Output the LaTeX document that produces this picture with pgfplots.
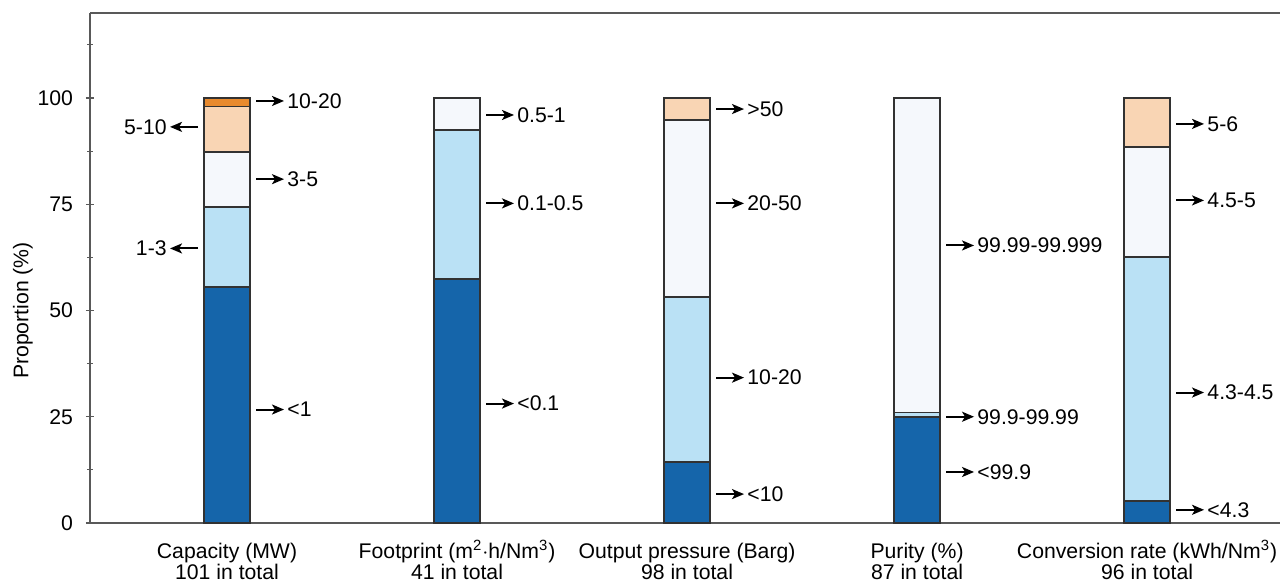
\documentclass[border=0pt]{standalone}
\usepackage{fontspec}
\setmainfont{Liberation Sans}
\usepackage{pgfplots}
\pgfplotsset{compat=1.18}
\usetikzlibrary{arrows.meta}
\definecolor{cdark}{RGB}{21,101,170}
\definecolor{clight}{RGB}{186,225,245}
\definecolor{cwhite}{RGB}{245,248,252}
\definecolor{cpeach}{RGB}{249,213,180}
\definecolor{corange}{RGB}{232,138,46}
\definecolor{cedge}{RGB}{50,50,50}
\newcommand{\fs}{\fontsize{10.6}{10.6}\selectfont}
\newcommand{\supx}[1]{\smash{\textsuperscript{#1}}}
\newcommand{\R}[3]{\draw[arr] ([xshift=14.5pt]axis cs:#1,#2) -- ([xshift=28.5pt]axis cs:#1,#2) node[lab,anchor=west]{#3};}
\newcommand{\LL}[3]{\draw[arr] ([xshift=-14.5pt]axis cs:#1,#2) -- ([xshift=-28.5pt]axis cs:#1,#2) node[lab,anchor=east]{#3};}
\begin{document}
\begin{tikzpicture}[arr/.style={line width=1pt,-{Stealth[length=6pt,width=5pt,inset=1.5pt]}},
  lab/.style={font=\fs,inner sep=1.2pt}]
\begin{axis}[
  name=ax,
  scale only axis,
  width=595pt, height=255pt,
  xmin=-0.5957, xmax=4.578,
  ymin=0, ymax=120,
  axis x line=box, axis y line=left,
  axis line style={-, draw=black!65, line width=0.8pt},
  ybar stacked, bar width=23pt,
  xtick={0,1,2,3,4},
  xtick pos=bottom,
  xticklabels={{Capacity (MW)\\101 in total},
               {Footprint (m\supx{2}$\cdot$h/Nm\supx{3})\\41 in total},
               {Output pressure (Barg)\\98 in total},
               {Purity (\%)\\87 in total},
               {Conversion rate (kWh/Nm\supx{3})\\96 in total}},
  xticklabel style={align=center, font=\fs, yshift=-6.5pt},
  ytick={0,25,50,75,100},
  minor ytick={12.5,37.5,62.5,87.5,112.5},
  yticklabel style={font=\fs, xshift=-3pt},
  /pgf/number format/assume math mode=true,
  tick style={draw=black!65, line width=0.6pt},
  major tick length=4pt, minor tick length=2.5pt,
  ylabel={Proportion (\%)},
  ylabel style={font=\fs, at={(axis description cs:-0.0563,0.4167)}, anchor=center},
  clip=false,
  every axis plot/.append style={draw=cedge, line width=0.9pt},
]
\addplot[fill=cdark] coordinates {(0,55.45) (1,57.5) (2,14.3) (3,24.9) (4,5.2)};
\addplot[fill=clight] coordinates {(0,18.85) (1,35.0) (2,38.8) (3,1.1) (4,57.3)};
\addplot[fill=cwhite] coordinates {(0,12.9) (1,7.5) (2,41.8) (3,74.0) (4,26.0)};
\addplot[fill=cpeach] coordinates {(0,10.8) (1,0) (2,5.1) (3,0) (4,11.5)};
\addplot[fill=corange] coordinates {(0,2.0) (1,0) (2,0) (3,0) (4,0)};
% annotations
\R{0}{99.3}{10-20}
\LL{0}{93.2}{5-10}
\R{0}{80.9}{3-5}
\LL{0}{64.6}{1-3}
\R{0}{26.7}{<1}
\R{1}{96.0}{0.5-1}
\R{1}{75.2}{0.1-0.5}
\R{1}{28.1}{<0.1}
\R{2}{97.4}{>50}
\R{2}{75.2}{20-50}
\R{2}{34.2}{10-20}
\R{2}{6.8}{<10}
\R{3}{65.3}{99.99-99.999}
\R{3}{25.0}{99.9-99.99}
\R{3}{12.0}{<99.9}
\R{4}{93.9}{5-6}
\R{4}{75.9}{4.5-5}
\R{4}{30.7}{4.3-4.5}
\R{4}{3.1}{<4.3}
\end{axis}
\pgfresetboundingbox
\useasboundingbox ([shift={(-45pt,-29.5pt)}]ax.south west) rectangle ([shift={(0pt,6.5pt)}]ax.north east);
\end{tikzpicture}
\end{document}
